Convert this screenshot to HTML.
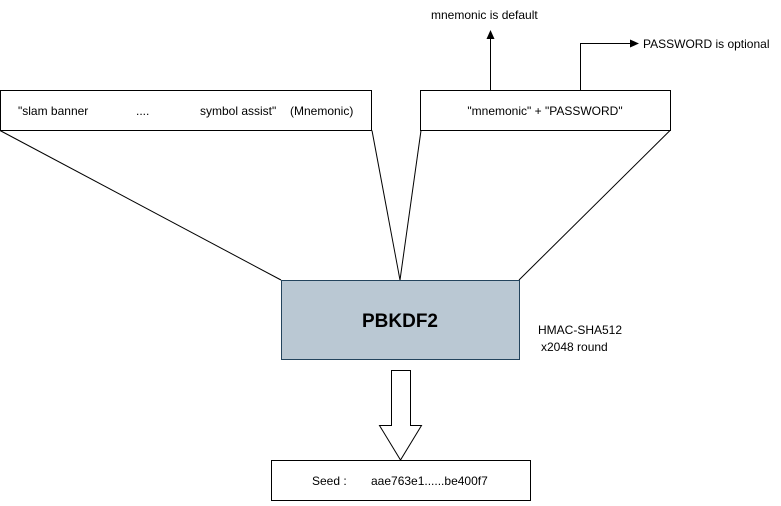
<!DOCTYPE html>
<html><head><meta charset="utf-8"><style>
body{margin:0;background:#fff;width:781px;height:501px;overflow:hidden}
text{font-family:"Liberation Sans",sans-serif;font-size:12px;fill:#000}
</style></head><body>
<svg width="781" height="501" xmlns="http://www.w3.org/2000/svg">
<g stroke="#000" stroke-width="1" fill="none">
<rect x="0.5" y="90.5" width="371" height="40" fill="#fff"/>
<rect x="420.5" y="90.5" width="250" height="40" fill="#fff"/>
<line x1="0" y1="130.5" x2="281" y2="280"/>
<line x1="372" y1="130.5" x2="400" y2="280"/>
<line x1="421" y1="130.5" x2="400" y2="280"/>
<line x1="670" y1="130.5" x2="519" y2="280"/>
<line x1="490.5" y1="90" x2="490.5" y2="38"/>
<polyline points="580.5,90 580.5,43.5 632,43.5"/>
<rect x="271.5" y="460.5" width="259" height="40" fill="#fff"/>
<polygon points="391.5,370.5 410.5,370.5 410.5,425.5 421.5,425.5 400.5,460 379.5,425.5 391.5,425.5" fill="#fff"/>
</g>
<polygon points="490.5,30 486.5,39 494.5,39" fill="#000"/>
<polygon points="639,43.5 630,39.5 630,47.5" fill="#000"/>
<rect x="281.5" y="280.5" width="238" height="79" fill="#bac8d3" stroke="#23445d"/>
<text x="18" y="115">"slam banner</text>
<text x="136" y="115">....</text>
<text x="200" y="115">symbol assist"</text>
<text x="290" y="115">(Mnemonic)</text>
<text x="545" y="115" text-anchor="middle">"mnemonic" + "PASSWORD"</text>
<text x="431" y="19">mnemonic is default</text>
<text x="643" y="48">PASSWORD is optional</text>
<text x="400" y="327" text-anchor="middle" style="font-size:19px;font-weight:bold">PBKDF2</text>
<text x="538" y="334">HMAC-SHA512</text>
<text x="541" y="351">x2048 round</text>
<text x="312" y="485">Seed :</text>
<text x="371" y="485">aae763e1......be400f7</text>
</svg>
</body></html>
